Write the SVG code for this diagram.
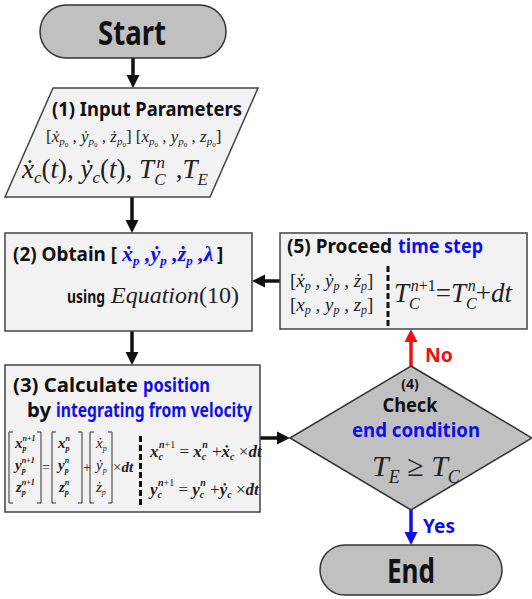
<svg xmlns="http://www.w3.org/2000/svg" width="532" height="599" viewBox="0 0 532 599">
<style>
.b{font-family:"Noto Sans","Open Sans",sans-serif;font-weight:bold;fill:#111}
.m{font-family:"Liberation Serif","Times New Roman",serif;fill:#222}
.i{font-style:italic}
.bi{font-style:italic;font-weight:bold}
.blue{fill:#1010e6}
.red{fill:#ee1111}
.gray{fill:#c0c0c0;stroke:#333;stroke-width:1.5}
.box{fill:#f2f2f2;stroke:#444;stroke-width:1.5}
.br{fill:none;stroke:#333;stroke-width:1}
.dash{stroke:#111;stroke-width:3;stroke-dasharray:6 3}
.ln{fill:none;stroke-width:3.5}
</style>
<defs>
<marker id="ak" markerUnits="userSpaceOnUse" markerWidth="14" markerHeight="14" refX="4" refY="7" orient="auto"><path d="M0,0.5 L13,7 L0,13.5 z" fill="#111"/></marker>
<marker id="ar" markerUnits="userSpaceOnUse" markerWidth="14" markerHeight="14" refX="4" refY="7" orient="auto"><path d="M0,0.5 L13,7 L0,13.5 z" fill="#ee1111"/></marker>
<marker id="ab" markerUnits="userSpaceOnUse" markerWidth="14" markerHeight="14" refX="4" refY="7" orient="auto"><path d="M0,0.5 L13,7 L0,13.5 z" fill="#1010e6"/></marker>
</defs>

<g id="connectors">
<path class="ln" stroke="#111" d="M133,58 V79" marker-end="url(#ak)"/>
<path class="ln" stroke="#111" d="M132,197 V224" marker-end="url(#ak)"/>
<path class="ln" stroke="#111" d="M132,331 V356" marker-end="url(#ak)"/>
<path class="ln" stroke="#111" d="M260,438 H281" marker-end="url(#ak)"/>
<path class="ln" stroke="#111" d="M280,281 H261" marker-end="url(#ak)"/>
<path class="ln" stroke="#ee1111" d="M411,366 V338" marker-end="url(#ar)"/>
<path class="ln" stroke="#1010e6" d="M411,510 V536" marker-end="url(#ab)"/>
<text class="b red" x="425" y="362" font-size="20" textLength="28" lengthAdjust="spacingAndGlyphs">No</text>
<text class="b blue" x="423" y="533" font-size="20" textLength="32" lengthAdjust="spacingAndGlyphs">Yes</text>
</g>

<g id="start">
<rect class="gray" x="40" y="5" width="186" height="53" rx="26.5"/>
<text class="b" x="98" y="45" font-size="34" textLength="68" lengthAdjust="spacingAndGlyphs">Start</text>
</g>

<g id="input">
<polygon class="box" points="53,88 258,88 210,197 5,197"/>
<text class="b" x="52" y="116" font-size="19" textLength="190" lengthAdjust="spacingAndGlyphs">(1) Input Parameters</text>
<text class="m" x="46" y="142" font-size="17">[<tspan class="i">ẋ</tspan><tspan class="i" font-size="11" dy="3">p</tspan><tspan font-size="7" dy="2">0</tspan><tspan dy="-5"> , </tspan><tspan class="i">ẏ</tspan><tspan class="i" font-size="11" dy="3">p</tspan><tspan font-size="7" dy="2">0</tspan><tspan dy="-5"> , </tspan><tspan class="i">ż</tspan><tspan class="i" font-size="11" dy="3">p</tspan><tspan font-size="7" dy="2">0</tspan><tspan dy="-5">] [</tspan><tspan class="i">x</tspan><tspan class="i" font-size="11" dy="3">p</tspan><tspan font-size="7" dy="2">0</tspan><tspan dy="-5"> , </tspan><tspan class="i">y</tspan><tspan class="i" font-size="11" dy="3">p</tspan><tspan font-size="7" dy="2">0</tspan><tspan dy="-5"> , </tspan><tspan class="i">z</tspan><tspan class="i" font-size="11" dy="3">p</tspan><tspan font-size="7" dy="2">0</tspan><tspan dy="-5">]</tspan></text>
<text class="m" x="22" y="178" font-size="27"><tspan class="i">ẋ</tspan><tspan class="i" font-size="17" dy="5">c</tspan><tspan dy="-5">(</tspan><tspan class="i">t</tspan>), <tspan class="i">ẏ</tspan><tspan class="i" font-size="17" dy="5">c</tspan><tspan dy="-5">(</tspan><tspan class="i">t</tspan>), <tspan class="i">T</tspan><tspan class="i" font-size="17" dy="7">C</tspan><tspan class="i" font-size="17" dx="-9" dy="-17">n</tspan><tspan dy="10" dx="4"> ,</tspan><tspan class="i">T</tspan><tspan class="i" font-size="17" dy="7">E</tspan></text>
</g>

<g id="obtain">
<rect class="box" x="5" y="233" width="247" height="98"/>
<text class="b" x="13" y="261" font-size="19" textLength="104" lengthAdjust="spacingAndGlyphs">(2) Obtain [</text>
<text class="m blue bi" x="122" y="261" font-size="22"><tspan>ẋ</tspan><tspan font-size="13" dy="4">p</tspan><tspan dy="-4"> ,</tspan><tspan>ẏ</tspan><tspan font-size="13" dy="4">p</tspan><tspan dy="-4"> ,</tspan><tspan>ż</tspan><tspan font-size="13" dy="4">p</tspan><tspan dy="-4"> ,</tspan><tspan>λ</tspan></text>
<text class="b" x="217" y="261" font-size="19">]</text>
<text class="b" x="67" y="303" font-size="17" textLength="38" lengthAdjust="spacingAndGlyphs">using</text>
<text class="m" x="111" y="303" font-size="24"><tspan class="i">Equation</tspan>(10)</text>
</g>

<g id="proceed">
<rect class="box" x="280" y="233" width="247" height="96"/>
<text class="b" x="287" y="253" font-size="19" textLength="105" lengthAdjust="spacingAndGlyphs">(5) Proceed</text>
<text class="b blue" x="398" y="253" font-size="19" textLength="85" lengthAdjust="spacingAndGlyphs">time step</text>
<text class="m" x="290" y="287" font-size="19">[<tspan class="i">ẋ</tspan><tspan class="i" font-size="12" dy="3">p</tspan><tspan dy="-3"> , </tspan><tspan class="i">ẏ</tspan><tspan class="i" font-size="12" dy="3">p</tspan><tspan dy="-3"> , </tspan><tspan class="i">ż</tspan><tspan class="i" font-size="12" dy="3">p</tspan><tspan dy="-3">]</tspan></text>
<text class="m" x="290" y="311" font-size="19">[<tspan class="i">x</tspan><tspan class="i" font-size="12" dy="3">p</tspan><tspan dy="-3"> , </tspan><tspan class="i">y</tspan><tspan class="i" font-size="12" dy="3">p</tspan><tspan dy="-3"> , </tspan><tspan class="i">z</tspan><tspan class="i" font-size="12" dy="3">p</tspan><tspan dy="-3">]</tspan></text>
<line class="dash" x1="388" y1="266" x2="388" y2="326"/>
<text class="m" x="394" y="302" font-size="27"><tspan class="i">T</tspan><tspan class="i" font-size="16" dy="7">C</tspan><tspan font-size="16" dx="-9" dy="-18"><tspan class="i">n</tspan>+1</tspan><tspan dy="11">=</tspan><tspan class="i">T</tspan><tspan class="i" font-size="16" dy="7">C</tspan><tspan class="i" font-size="16" dx="-9" dy="-18">n</tspan><tspan dy="11">+</tspan><tspan class="i">dt</tspan></text>
</g>

<g id="calculate">
<rect class="box" x="5" y="365" width="255" height="147"/>
<text class="b" x="13" y="392" font-size="19" textLength="125" lengthAdjust="spacingAndGlyphs">(3) Calculate</text>
<text class="b blue" x="143" y="392" font-size="19" textLength="67" lengthAdjust="spacingAndGlyphs">position</text>
<text class="b" x="27" y="417" font-size="19" textLength="24" lengthAdjust="spacingAndGlyphs">by</text>
<text class="b blue" x="56" y="417" font-size="19" textLength="196" lengthAdjust="spacingAndGlyphs">integrating from velocity</text>
<polyline class="br" points="13,432 9,432 9,503 13,503"/>
<polyline class="br" points="37,432 41,432 41,503 37,503"/>
<polyline class="br" points="56,432 52,432 52,503 56,503"/>
<polyline class="br" points="78,432 82,432 82,503 78,503"/>
<polyline class="br" points="94,432 90,432 90,503 94,503"/>
<polyline class="br" points="108,432 112,432 112,503 108,503"/>
<g class="m bi" font-size="15">
<text x="15" y="448">x<tspan font-size="8" dy="3">p</tspan><tspan font-size="8" dx="-4" dy="-10">n+1</tspan></text>
<text x="15" y="470">y<tspan font-size="8" dy="3">p</tspan><tspan font-size="8" dx="-4" dy="-10">n+1</tspan></text>
<text x="16" y="492">z<tspan font-size="8" dy="3">p</tspan><tspan font-size="8" dx="-4" dy="-10">n+1</tspan></text>
<text x="58" y="448">x<tspan font-size="8" dy="3">p</tspan><tspan font-size="8" dx="-4" dy="-10">n</tspan></text>
<text x="58" y="470">y<tspan font-size="8" dy="3">p</tspan><tspan font-size="8" dx="-4" dy="-10">n</tspan></text>
<text x="59" y="492">z<tspan font-size="8" dy="3">p</tspan><tspan font-size="8" dx="-4" dy="-10">n</tspan></text>
<text x="96" y="448" font-weight="normal">ẋ<tspan font-size="8" dy="3">p</tspan></text>
<text x="96" y="470" font-weight="normal">ẏ<tspan font-size="8" dy="3">p</tspan></text>
<text x="96" y="492" font-weight="normal">ż<tspan font-size="8" dy="3">p</tspan></text>
</g>
<text class="m" x="42" y="472" font-size="14">=</text>
<text class="m" x="83" y="472" font-size="14">+</text>
<text class="m" x="113" y="472" font-size="15">×<tspan class="bi">dt</tspan></text>
<line class="dash" x1="140.5" y1="436" x2="140.5" y2="505"/>
<text class="m" x="150" y="457" font-size="17"><tspan class="bi">x</tspan><tspan class="bi" font-size="10" dy="3">c</tspan><tspan class="bi" font-size="10" dx="-4" dy="-12">n</tspan><tspan font-size="10">+1</tspan><tspan dy="9"> = </tspan><tspan class="bi">x</tspan><tspan class="bi" font-size="10" dy="3">c</tspan><tspan class="bi" font-size="10" dx="-4" dy="-12">n</tspan><tspan dy="9"> +</tspan><tspan class="bi">ẋ</tspan><tspan class="bi" font-size="10" dy="3">c</tspan><tspan dy="-3"> ×</tspan><tspan class="bi">dt</tspan></text>
<text class="m" x="150" y="495" font-size="17"><tspan class="bi">y</tspan><tspan class="bi" font-size="10" dy="3">c</tspan><tspan class="bi" font-size="10" dx="-4" dy="-12">n</tspan><tspan font-size="10">+1</tspan><tspan dy="9"> = </tspan><tspan class="bi">y</tspan><tspan class="bi" font-size="10" dy="3">c</tspan><tspan class="bi" font-size="10" dx="-4" dy="-12">n</tspan><tspan dy="9"> +</tspan><tspan class="bi">ẏ</tspan><tspan class="bi" font-size="10" dy="3">c</tspan><tspan dy="-3"> ×</tspan><tspan class="bi">dt</tspan></text>
</g>

<g id="check">
<polygon class="gray" points="411,366 532,438 411,510 290,438"/>
<text class="b" x="410" y="389" font-size="14" text-anchor="middle">(4)</text>
<text class="b" x="410" y="412" font-size="19" text-anchor="middle" textLength="55" lengthAdjust="spacingAndGlyphs">Check</text>
<text class="b blue" x="416" y="437" font-size="19" text-anchor="middle" textLength="128" lengthAdjust="spacingAndGlyphs">end condition</text>
<text class="m" x="372" y="476" font-size="30"><tspan class="i">T</tspan><tspan class="i" font-size="18" dy="7">E</tspan><tspan dy="-7"> ≥ </tspan><tspan class="i">T</tspan><tspan class="i" font-size="18" dy="7">C</tspan></text>
</g>

<g id="end">
<rect class="gray" x="320" y="545" width="182" height="50" rx="25"/>
<text class="b" x="387" y="583" font-size="34" textLength="48" lengthAdjust="spacingAndGlyphs">End</text>
</g>
</svg>
